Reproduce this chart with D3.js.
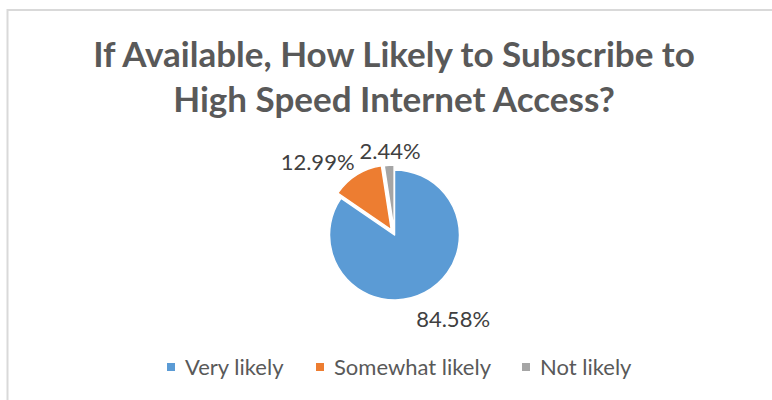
<!DOCTYPE html>
<html>
<head>
<meta charset="utf-8">
<script src="https://cdn.jsdelivr.net/npm/d3@7"></script>
<style>
  html, body { margin: 0; padding: 0; background: #ffffff; }
  svg { display: block; }
</style>
</head>
<body>
<svg id="chart" width="772" height="400"></svg>
<script>
// Survey responses
const categories = ["Very likely", "Somewhat likely", "Not likely"];
const values = [84.58, 12.99, 2.44];
const colors = ["#5B9BD5", "#ED7D31", "#A5A5A5"];
const titleLines = ["If Available, How Likely to Subscribe to", "High Speed Internet Access?"];

const svg = d3.select("#chart");
const W = 772, H = 400;
const font = "Lato, 'Open Sans', 'Liberation Sans', sans-serif";

// chart frame
svg.append("rect")
  .attr("x", 7.5).attr("y", 10)
  .attr("width", W + 10).attr("height", H + 10)
  .attr("fill", "#ffffff")
  .attr("stroke", "#d9d9d9").attr("stroke-width", 2);

// title
svg.append("g").selectAll("text")
  .data(titleLines)
  .join("text")
  .attr("x", 394)
  .attr("y", (d, i) => 67 + i * 45)
  .attr("text-anchor", "middle")
  .attr("font-family", font)
  .attr("font-weight", "bold")
  .attr("font-size", 35)
  .attr("fill", "#595959")
  .text(d => d);

// pie
const cx = 394.5, cy = 235, r = 65;
const data = categories.map((c, i) => ({ category: c, value: values[i], color: colors[i] }));
const pie = d3.pie().sort(null).value(d => d.value);
const arcs = pie(data);
const arc = d3.arc().innerRadius(0).outerRadius(r);
// first slice stays in place, the smaller ones are pulled out a little
const explode = [0, 6, 5];
const mid = d => (d.startAngle + d.endAngle) / 2;

const g = svg.append("g").attr("transform", `translate(${cx},${cy})`);
g.selectAll("path")
  .data(arcs)
  .join("path")
  .attr("transform", (d, i) => `translate(${Math.sin(mid(d)) * explode[i]},${-Math.cos(mid(d)) * explode[i]})`)
  .attr("d", arc)
  .attr("fill", d => d.data.color)
  .attr("stroke", "#ffffff")
  .attr("stroke-width", 1.5)
  .attr("stroke-linejoin", "round");

// data labels, placed outside the slices
const labelR = [100, 90, 85];
const labelNudge = [[12, -5], [-29, 3], [2, 0]];
g.selectAll("text.lbl")
  .data(arcs)
  .join("text")
  .attr("class", "lbl")
  .attr("x", (d, i) => Math.sin(mid(d)) * labelR[i] + labelNudge[i][0])
  .attr("y", (d, i) => -Math.cos(mid(d)) * labelR[i] + labelNudge[i][1])
  .attr("text-anchor", "middle")
  .attr("dominant-baseline", "central")
  .attr("font-family", font)
  .attr("font-size", 22)
  .attr("fill", "#404040")
  .text(d => d3.format(".2f")(d.data.value) + "%");

// legend
const legendX = [167, 316, 522];
const items = svg.append("g").selectAll("g")
  .data(data)
  .join("g")
  .attr("transform", (d, i) => `translate(${legendX[i]},363)`);
items.append("rect")
  .attr("width", 8).attr("height", 8)
  .attr("fill", d => d.color);
items.append("text")
  .attr("x", 18).attr("y", 12)
  .attr("font-family", font)
  .attr("font-size", 22)
  .attr("fill", "#595959")
  .text(d => d.category);
</script>
</body>
</html>
